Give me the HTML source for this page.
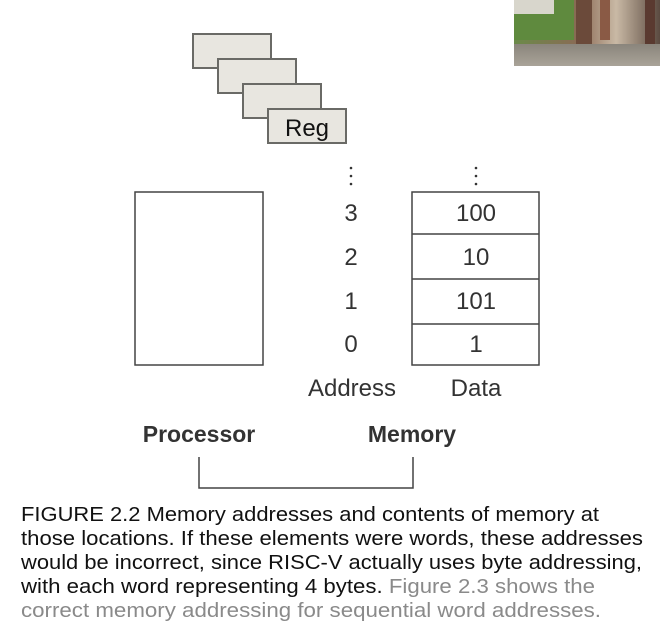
<!DOCTYPE html>
<html><head><meta charset="utf-8"><style>
html,body{margin:0;padding:0;background:#fff;}
svg{display:block;}
text{font-family:"Liberation Sans",Arial,sans-serif;}
</style></head><body>
<svg width="660" height="628" viewBox="0 0 660 628" xmlns="http://www.w3.org/2000/svg">
<defs>
<linearGradient id="sky" x1="0" y1="0" x2="1" y2="0">
<stop offset="0" stop-color="#6b8a4a"/><stop offset="0.45" stop-color="#8a6a55"/><stop offset="0.7" stop-color="#c9b9a5"/><stop offset="1" stop-color="#5a4a40"/>
</linearGradient>
<linearGradient id="floor" x1="0" y1="0" x2="0" y2="1">
<stop offset="0" stop-color="#8a857c"/><stop offset="1" stop-color="#a9a398"/>
</linearGradient>
</defs>
<rect x="514" y="0" width="146" height="66" fill="url(#sky)"/>
<rect x="514" y="0" width="60" height="40" fill="#5f8a3e"/>
<rect x="514" y="0" width="40" height="14" fill="#d8d6cc"/>
<rect x="576" y="0" width="16" height="48" fill="#6b4a3a"/>
<rect x="600" y="0" width="10" height="40" fill="#8a5a45"/>
<rect x="645" y="0" width="10" height="45" fill="#5a3a30"/>
<rect x="514" y="44" width="146" height="22" fill="url(#floor)"/>
<g fill="#e8e6e0" stroke="#6a6a66" stroke-width="2">
<rect x="193" y="34" width="78" height="34"/>
<rect x="218" y="59" width="78" height="34"/>
<rect x="243" y="84" width="78" height="34"/>
<rect x="268" y="109" width="78" height="34"/>
</g>
<text x="307" y="136" font-size="24" text-anchor="middle" fill="#111">Reg</text>
<rect x="135" y="192" width="128" height="173" fill="none" stroke="#444" stroke-width="1.5"/>
<g fill="none" stroke="#444" stroke-width="1.5">
<rect x="412" y="192" width="127" height="173"/>
<line x1="412" y1="234" x2="539" y2="234"/>
<line x1="412" y1="279" x2="539" y2="279"/>
<line x1="412" y1="324" x2="539" y2="324"/>
<polyline points="199,457 199,488 413,488 413,457"/>
</g>
<g fill="#333">
<circle cx="351" cy="168" r="1.3"/><circle cx="351" cy="176" r="1.3"/><circle cx="351" cy="184" r="1.3"/>
<circle cx="476" cy="168" r="1.3"/><circle cx="476" cy="176" r="1.3"/><circle cx="476" cy="184" r="1.3"/>
</g>
<g font-size="24" fill="#333" text-anchor="middle">
<text x="351" y="221">3</text>
<text x="351" y="265">2</text>
<text x="351" y="309">1</text>
<text x="351" y="352">0</text>
<text x="476" y="221">100</text>
<text x="476" y="265">10</text>
<text x="476" y="309">101</text>
<text x="476" y="352">1</text>
<text x="352" y="396">Address</text>
<text x="476" y="396">Data</text>
</g>
<g font-size="23" font-weight="bold" fill="#333" text-anchor="middle">
<text x="199" y="442">Processor</text>
<text x="412" y="442">Memory</text>
</g>
<g font-size="20" fill="#111">
<text x="21" y="521" textLength="578" lengthAdjust="spacingAndGlyphs">FIGURE 2.2 Memory addresses and contents of memory at</text>
<text x="21" y="545" textLength="622" lengthAdjust="spacingAndGlyphs">those locations. If these elements were words, these addresses</text>
<text x="21" y="569" textLength="621" lengthAdjust="spacingAndGlyphs">would be incorrect, since RISC-V actually uses byte addressing,</text>
<text x="21" y="593" textLength="574" lengthAdjust="spacingAndGlyphs">with each word representing 4 bytes. <tspan fill="#8a8a8a">Figure 2.3 shows the</tspan></text>
<text x="21" y="617" textLength="580" lengthAdjust="spacingAndGlyphs" fill="#8a8a8a">correct memory addressing for sequential word addresses.</text>
</g>
</svg>
</body></html>
